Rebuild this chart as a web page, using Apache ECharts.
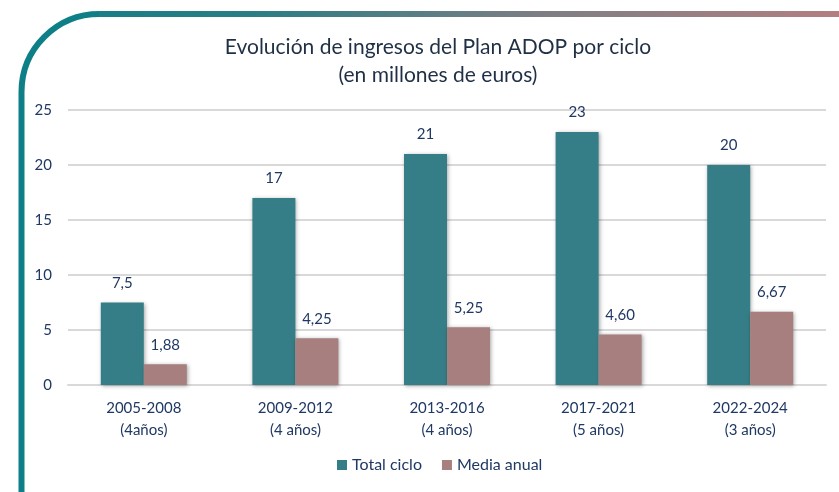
<!DOCTYPE html>
<html>
<head>
<meta charset="utf-8">
<script src="https://cdn.jsdelivr.net/npm/echarts@6/dist/echarts.min.js"></script>
<style>
html,body{margin:0;padding:0;background:#fff;}
#chart{width:839px;height:492px;}
</style>
</head>
<body>
<div id="chart"></div>
<script>
var titleLines = ['Evolución de ingresos del Plan ADOP por ciclo', '(en millones de euros)'];
var categories = ['2005-2008\n(4años)', '2009-2012\n(4 años)', '2013-2016\n(4 años)', '2017-2021\n(5 años)', '2022-2024\n(3 años)'];
var seriesNames = ['Total ciclo', 'Media anual'];
var totalCiclo = [7.5, 17, 21, 23, 20];
var mediaAnual = [1.88, 4.25, 5.25, 4.60, 6.67];
var yTicks = [0, 5, 10, 15, 20, 25];

var FONT = 'Lato';
var TXT = '#1F3864';

function fmtTotal(v) { return String(v).replace('.', ','); }
function fmtMedia(v) { return v.toFixed(2).replace('.', ','); }

function borderGradient() {
  return new echarts.graphic.LinearGradient(0, 0, 839, 0, [
    { offset: 0, color: '#0E7F87' },
    { offset: 0.3, color: '#2A7D85' },
    { offset: 0.65, color: '#7E7E84' },
    { offset: 1, color: '#B27F80' }
  ], true);
}

var chart = echarts.init(document.getElementById('chart'));
chart.setOption({
  backgroundColor: '#ffffff',
  animation: false,
  textStyle: { fontFamily: FONT },
  title: {
    text: titleLines.join('\n'),
    top: 28,
    left: 433,
    textAlign: 'center',
    textStyle: { fontFamily: FONT, fontSize: 21, fontWeight: 'normal', color: '#1F2F45', lineHeight: 28 }
  },
  legend: {
    bottom: 14,
    left: 332,
    itemWidth: 10,
    itemHeight: 10,
    itemGap: 20,
    icon: 'rect',
    textStyle: { fontFamily: FONT, fontSize: 16, color: TXT },
    data: seriesNames
  },
  grid: { left: 68, right: 13, top: 110, bottom: 107, containLabel: false },
  xAxis: {
    type: 'category',
    data: categories,
    axisLine: { show: true, lineStyle: { color: '#d9d9d9', width: 2 } },
    axisTick: { show: false },
    axisLabel: { fontFamily: FONT, fontSize: 15, color: TXT, lineHeight: 22, margin: 12 }
  },
  yAxis: {
    type: 'value',
    min: yTicks[0],
    max: yTicks[yTicks.length - 1],
    interval: yTicks[1] - yTicks[0],
    axisLine: { show: false },
    axisTick: { show: false },
    axisLabel: { fontFamily: FONT, fontSize: 15, color: TXT, margin: 16 },
    splitLine: { lineStyle: { color: '#d9d9d9', width: 2 } }
  },
  series: [
    {
      name: seriesNames[0],
      type: 'bar',
      data: totalCiclo,
      barWidth: 43,
      barGap: '0%',
      itemStyle: { color: '#367E87', shadowBlur: 4, shadowColor: 'rgba(0,0,0,0.35)', shadowOffsetX: 1, shadowOffsetY: 1 },
      label: { show: true, position: 'top', distance: 12, fontFamily: FONT, fontSize: 15, color: TXT,
        formatter: function (p) { return fmtTotal(p.value); } }
    },
    {
      name: seriesNames[1],
      type: 'bar',
      data: mediaAnual,
      barWidth: 43,
      barGap: '0%',
      itemStyle: { color: '#A67F7E', shadowBlur: 4, shadowColor: 'rgba(0,0,0,0.35)', shadowOffsetX: 1, shadowOffsetY: 1 },
      label: { show: true, position: 'top', distance: 12, fontFamily: FONT, fontSize: 15, color: TXT,
        formatter: function (p) { return fmtMedia(p.value); } }
    }
  ],
  graphic: [
    {
      type: 'line', silent: true,
      shape: { x1: 21.5, y1: 500, x2: 21.5, y2: 92 },
      style: { lineWidth: 6, stroke: '#0E7F87' }
    },
    {
      type: 'bezierCurve', silent: true,
      shape: { x1: 21.5, y1: 92, cpx1: 21.5, cpy1: 48.92, cpx2: 56.42, cpy2: 14, x2: 99.5, y2: 14 },
      style: { lineWidth: 6, fill: null, stroke: '#0E7F87' }
    },
    {
      type: 'line', silent: true,
      shape: { x1: 99, y1: 14, x2: 845, y2: 14 },
      style: { lineWidth: 6, stroke: borderGradient() }
    }
  ]
});
</script>
</body>
</html>
